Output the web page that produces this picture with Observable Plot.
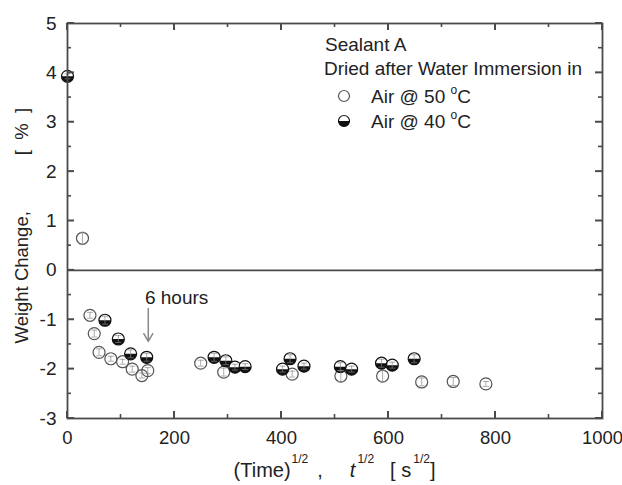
<!DOCTYPE html>
<html><head><meta charset="utf-8">
<script src="https://cdn.jsdelivr.net/npm/d3@7"></script>
<script src="https://cdn.jsdelivr.net/npm/@observablehq/plot@0.6"></script>
<style>body{margin:0;background:#fff;font-family:"Liberation Sans",Arial,sans-serif}</style>
</head><body><div id="chart"></div>
<script>
// Air @ 50 °C (open circles)
const air50X   = [28, 42, 50, 59, 81, 103, 121, 139, 150, 249, 292, 420, 511, 589, 662, 721, 782];
const air50Y   = [0.65, -0.91, -1.28, -1.66, -1.79, -1.85, -2.0, -2.13, -2.03, -1.88, -2.06, -2.1, -2.14, -2.14, -2.26, -2.25, -2.3];
const air50Err = [0.12, 0.06, 0.07, 0.07, 0.05, 0.05, 0.06, 0.05, 0.06, 0.06, 0.08, 0.06, 0.11, 0.11, 0.08, 0.08, 0.05];
// Air @ 40 °C (half-filled circles)
const air40X   = [0, 70, 95, 118, 148, 274, 296, 313, 332, 402, 416, 442, 510, 531, 587, 607, 648];
const air40Y   = [3.93, -1.01, -1.39, -1.69, -1.76, -1.76, -1.83, -1.96, -1.95, -2.0, -1.79, -1.94, -1.95, -2.0, -1.88, -1.92, -1.79];
const air40Err = [0.05, 0.08, 0.07, 0.08, 0.08, 0.08, 0.08, 0.06, 0.06, 0.06, 0.08, 0.06, 0.08, 0.06, 0.08, 0.06, 0.08];
// axis ticks
const xTicks = [0, 200, 400, 600, 800, 1000];
const xMinor = [100, 300, 500, 700, 900];
const yTicks = [-3, -2, -1, 0, 1, 2, 3, 4, 5];
const yMinor = [-2.5, -1.5, -0.5, 0.5, 1.5, 2.5, 3.5, 4.5];
// annotation
const noteText = ["6 hours"];
const noteX = [204];
const noteY = [-0.56];
const arrowX = [151];
const arrowY1 = [-0.77];
const arrowY2 = [-1.44];

const air50 = air50X.map((x, i) => ({x, y: air50Y[i], e: air50Err[i]}));
const air40 = air40X.map((x, i) => ({x, y: air40Y[i], e: air40Err[i]}));
const allPts = air50.concat(air40);
const notes = noteText.map((t, i) => ({t, x: noteX[i], y: noteY[i]}));
const arrows = arrowX.map((x, i) => ({x, y1: arrowY1[i], y2: arrowY2[i]}));

const lowerHalf = {draw(ctx, size) { const r = Math.sqrt(size / Math.PI); ctx.moveTo(r, 0); ctx.arc(0, 0, r, 0, Math.PI); ctx.closePath(); }};
const capLine = {draw(ctx, size) { const r = Math.sqrt(size / Math.PI); ctx.moveTo(-r, 0); ctx.lineTo(r, 0); }};

const AX = "#4a4a4a";
const W = 622, H = 485, ML = 67, MR = 20, MT = 23, MB = 67;
const xDom = [0, 1000], yDom = [-3, 5];

const plot = Plot.plot({
  width: W, height: H,
  marginLeft: ML, marginRight: MR, marginTop: MT, marginBottom: MB,
  style: {fontFamily: "'Liberation Sans', Arial, sans-serif", fontSize: "19px", color: "#222", background: "white"},
  x: {domain: xDom},
  y: {domain: yDom},
  marks: [
    Plot.ruleY([0], {stroke: AX, strokeWidth: 1.8}),
    Plot.axisX({anchor: "bottom", ticks: xTicks, tickSize: 0, tickPadding: 12, tickFormat: d => String(d), label: null, fill: "#222", fontSize: 18.5}),
    Plot.axisY({anchor: "left", ticks: yTicks, tickSize: 0, tickPadding: 11, tickFormat: d => String(d), label: null, fill: "#222", fontSize: 19}),
    // data
    Plot.dot(air50, {x: "x", y: "y", r: 6, fill: "none", stroke: "#555", strokeWidth: 1.2}),
    Plot.dot(air40, {x: "x", y: "y", r: 6, fill: "white", stroke: "#111", strokeWidth: 1.2}),
    Plot.dot(air40, {x: "x", y: "y", r: 6, symbol: lowerHalf, fill: "#111"}),
    // error bars
    Plot.ruleX(allPts, {x: "x", y1: d => d.y - d.e, y2: d => d.y + d.e, stroke: "#888", strokeWidth: 0.7}),
    Plot.dot(allPts, {x: "x", y: d => d.y - d.e, r: 3, symbol: capLine, stroke: "#888", strokeWidth: 0.7}),
    Plot.dot(allPts, {x: "x", y: d => d.y + d.e, r: 3, symbol: capLine, stroke: "#888", strokeWidth: 0.7}),
    // annotation
    Plot.arrow(arrows, {x1: "x", x2: "x", y1: "y1", y2: "y2", stroke: "#888", strokeWidth: 1.5, headLength: 9}),
    Plot.text(notes, {x: "x", y: "y", text: "t", fontSize: 19, fill: "#222"}),
    Plot.frame({stroke: AX, strokeWidth: 1.8})
  ]
});

document.getElementById("chart").appendChild(plot);
const svg = d3.select(plot);
const TXT = "#222";
const sx = plot.scale("x"), sy = plot.scale("y");
const x0 = ML, x1 = W - MR, y0 = MT, y1 = H - MB;

// inward tick marks on all four sides (positions from Plot's scales)
const tg = svg.append("g").attr("stroke", AX).attr("stroke-linecap", "butt");
function addTicks(xs, ys, len, sw) {
  xs.forEach(v => {
    const px = sx.apply(v);
    tg.append("line").attr("x1", px).attr("x2", px).attr("y1", y1).attr("y2", y1 - len).attr("stroke-width", sw);
    tg.append("line").attr("x1", px).attr("x2", px).attr("y1", y0).attr("y2", y0 + len).attr("stroke-width", sw);
  });
  ys.forEach(v => {
    const py = sy.apply(v);
    tg.append("line").attr("y1", py).attr("y2", py).attr("x1", x0).attr("x2", x0 + len).attr("stroke-width", sw);
    tg.append("line").attr("y1", py).attr("y2", py).attr("x1", x1).attr("x2", x1 - len).attr("stroke-width", sw);
  });
}
addTicks(xTicks, yTicks, 7, 2);
addTicks(xMinor, yMinor, 4, 1.6);

// y-axis label
const yl = svg.append("text")
  .attr("transform", `translate(${ML - 39},${(MT + H - MB) / 2 + 123}) rotate(-90)`)
  .attr("text-anchor", "start").attr("font-size", 18.5).attr("fill", TXT);
yl.append("tspan").text("Weight Change,");
yl.append("tspan").attr("dx", 56).text("[\u00a0\u00a0%\u00a0\u00a0]");

// x-axis label
const xl = svg.append("text")
  .attr("x", (ML + W - MR) / 2).attr("y", H - 8)
  .attr("text-anchor", "middle").attr("font-size", 20).attr("fill", TXT);
xl.append("tspan").text("(Time)");
xl.append("tspan").attr("font-size", 12).attr("dy", -14).attr("dx", 1).text("1/2");
xl.append("tspan").attr("dy", 14).attr("dx", 9).text(",");
xl.append("tspan").attr("dx", 27).attr("font-style", "italic").text("t");
xl.append("tspan").attr("font-size", 12).attr("dy", -14).attr("dx", 2).text("1/2");
xl.append("tspan").attr("dy", 14).attr("dx", 16).text("[ s");
xl.append("tspan").attr("font-size", 12).attr("dy", -14).attr("dx", 2).text("1/2");
xl.append("tspan").attr("dy", 14).text("]");

// legend
const lg = svg.append("g").attr("fill", TXT).attr("font-size", 19).attr("text-anchor", "start");
lg.append("text").attr("x", 325).attr("y", 51).text("Sealant A");
lg.append("text").attr("x", 324).attr("y", 75).text("Dried after Water Immersion in");
const rows = [{label: "Air @ 50 ", y: 96, half: false}, {label: "Air @ 40 ", y: 121, half: true}];
rows.forEach(r => {
  lg.append("circle").attr("cx", 344).attr("cy", r.y).attr("r", 5.5)
    .attr("fill", "white").attr("stroke", r.half ? "#111" : "#555").attr("stroke-width", 1.2);
  if (r.half) lg.append("path").attr("d", `M349.5,${r.y}A5.5,5.5 0 0 1 338.5,${r.y}Z`).attr("fill", "#111");
  const t = lg.append("text").attr("x", 371).attr("y", r.y + 7);
  t.append("tspan").text(r.label);
  t.append("tspan").attr("font-size", 12).attr("dy", -9).text("o");
  t.append("tspan").attr("dy", 9).text("C");
});
</script></body></html>
